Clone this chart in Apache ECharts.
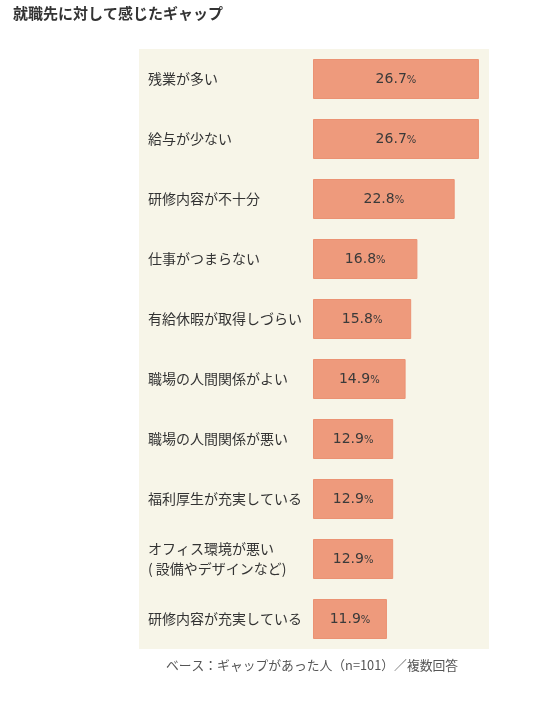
<!DOCTYPE html>
<html>
<head>
<meta charset="utf-8">
<script src="https://cdn.jsdelivr.net/npm/echarts@6/dist/echarts.min.js"></script>
<style>
html,body{margin:0;padding:0;background:#fff;}
#c{width:544px;height:701px;}
</style>
</head>
<body>
<div id="c"></div>
<script>
var categories = [
  '残業が多い',
  '給与が少ない',
  '研修内容が不十分',
  '仕事がつまらない',
  '有給休暇が取得しづらい',
  '職場の人間関係がよい',
  '職場の人間関係が悪い',
  '福利厚生が充実している',
  'オフィス環境が悪い\n( 設備やデザインなど)',
  '研修内容が充実している'
];
var values = [26.7, 26.7, 22.8, 16.8, 15.8, 14.9, 12.9, 12.9, 12.9, 11.9];
var titleText = '就職先に対して感じたギャップ';
var footText = 'ベース：ギャップがあった人（n=101）／複数回答';

var font = '"Noto Sans CJK JP", "Noto Sans", sans-serif';
var chart = echarts.init(document.getElementById('c'), null, {renderer: 'canvas'});
chart.setOption({
  animation: false,
  backgroundColor: '#ffffff',
  textStyle: {fontFamily: font},
  title: [{
    text: titleText,
    left: 13, top: 6, padding: 0,
    textStyle: {fontSize: 15, fontWeight: 'bold', color: '#333', fontFamily: font}
  }, {
    text: footText,
    left: 312, top: 659, textAlign: 'center', padding: 0,
    textStyle: {fontSize: 12.8, fontWeight: 'normal', color: '#555', fontFamily: font}
  }],
  graphic: [{
    type: 'rect', z: -10, silent: true,
    shape: {x: 139, y: 49, width: 350, height: 600},
    style: {fill: '#F7F5E8'}
  }],
  grid: {left: 313, top: 49, width: 174, height: 600, containLabel: false},
  xAxis: {
    type: 'value', min: 0, max: 28, show: false
  },
  yAxis: {
    type: 'category', inverse: true, data: categories,
    axisLine: {show: false}, axisTick: {show: false}, splitLine: {show: false},
    axisLabel: {
      align: 'left', margin: 165, fontSize: 14, color: '#333', lineHeight: 20,
      fontFamily: font
    }
  },
  series: [{
    type: 'bar', data: values, barWidth: 40,
    itemStyle: {color: '#EE9A7C', borderColor: '#EB9273', borderWidth: 1},
    label: {
      show: true, position: 'inside',
      formatter: function (p) { return '{v|' + p.value.toFixed(1) + '}{p|%}'; },
      rich: {
        v: {fontSize: 14, color: '#3a3a3a', fontFamily: '"DejaVu Sans", sans-serif'},
        p: {fontSize: 10, color: '#3a3a3a', fontFamily: '"DejaVu Sans", sans-serif', padding: [3, 0, 0, 0]}
      }
    }
  }]
});
</script>
</body>
</html>
